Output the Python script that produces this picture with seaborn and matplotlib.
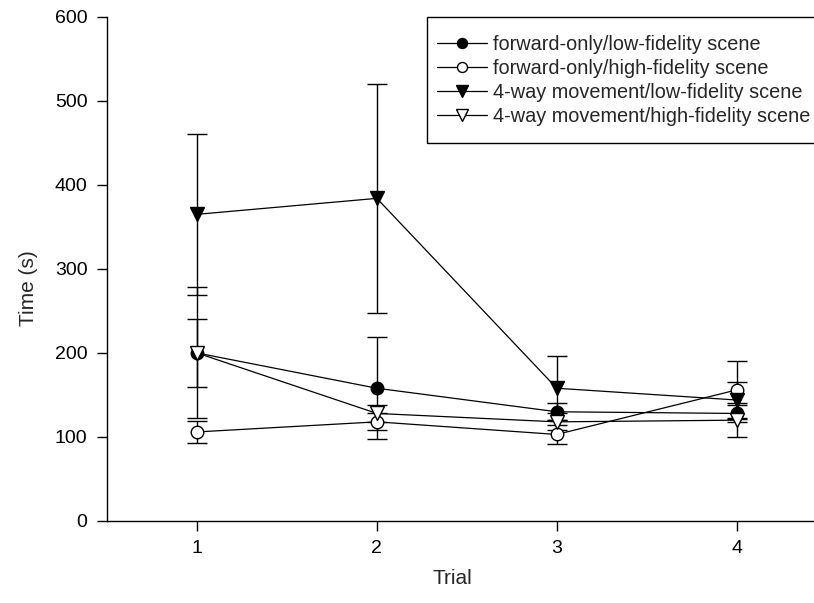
import numpy as np
import pandas as pd
import matplotlib
matplotlib.use("Agg")
import matplotlib.pyplot as plt
from matplotlib.patches import Rectangle
import seaborn as sns

# values
trials = [1, 2, 3, 4]
conditions = [
    "forward-only/low-fidelity scene",
    "forward-only/high-fidelity scene",
    "4-way movement/low-fidelity scene",
    "4-way movement/high-fidelity scene",
]
fwd_low = [200, 158, 130, 128]
fwd_low_err = [78, 61, 10, 10]
fwd_high = [106, 118, 103, 156]
fwd_high_err = [13, 10, 11, 35]
way_low = [365, 384, 158, 144]
way_low_err = [96, 136, 38, 21]
way_high = [200, 128, 118, 120]
way_high_err = [40, 10, 10, 20]

means = [fwd_low, fwd_high, way_low, way_high]
errs = [fwd_low_err, fwd_high_err, way_low_err, way_high_err]
marker_list = ["o", "o", "v", "v"]
face_list = ["black", "white", "black", "white"]

rows = []
for cond, m in zip(conditions, means):
    for t, v in zip(trials, m):
        rows.append({"Trial": t, "Time": v, "cond": cond})
df = pd.DataFrame(rows)

sns.set_style("ticks")
plt.rcParams["font.family"] = ["Liberation Sans", "DejaVu Sans"]

fig = plt.figure(figsize=(8.14, 6.03), dpi=100)
ax = fig.add_axes([0.1315, 0.136, 0.8685, 0.836])

# error bars first so the markers sit on top
for m, e in zip(means, errs):
    ax.errorbar(trials, m, yerr=e, fmt="none", ecolor="black", elinewidth=1,
                capsize=7, capthick=1, zorder=2)

sns.lineplot(data=df, x="Trial", y="Time", hue="cond", style="cond",
             hue_order=conditions, style_order=conditions,
             palette=["black"] * 4, markers=dict(zip(conditions, marker_list)),
             dashes=False, linewidth=0.9, markersize=9, legend=False, ax=ax,
             zorder=3)

handles = []
for line, fc, mk in zip(ax.lines[-4:], face_list, marker_list):
    line.set_markerfacecolor(fc)
    line.set_markeredgecolor("black")
    line.set_markeredgewidth(1)
    if mk == "v":
        line.set_markersize(10)
    handles.append(line)

ax.set_xlim(0.5, 4.43)
ax.set_ylim(0, 600)
ax.set_xticks(trials)
ax.set_yticks([0, 100, 200, 300, 400, 500, 600])
ax.tick_params(direction="out", length=7, width=1, pad=7, labelsize=14,
               colors="black")
ax.set_xlabel("Trial", fontsize=15)
ax.set_ylabel("Time (s)", fontsize=15)
ax.xaxis.set_label_coords(0.489, -0.095)
ax.yaxis.set_label_coords(-0.098, 0.462)
sns.despine(ax=ax)
for s in ["left", "bottom"]:
    ax.spines[s].set_linewidth(1)
    ax.spines[s].set_color("black")

# legend box runs off the right edge of the figure, as in the original
fig.add_artist(Rectangle((427 / 814, 1 - 143 / 603), 0.5, 126 / 603,
                         transform=fig.transFigure, fill=False,
                         edgecolor="black", linewidth=1))
leg = fig.legend(handles, conditions, loc="upper left",
                 bbox_to_anchor=(437 / 814, 1 - 35 / 603), borderaxespad=0,
                 fontsize=14.3, frameon=False, handlelength=2.5,
                 handletextpad=0.3, labelspacing=0.25, borderpad=0,
                 markerscale=0.8)

fig.savefig("out.png", dpi=100)
